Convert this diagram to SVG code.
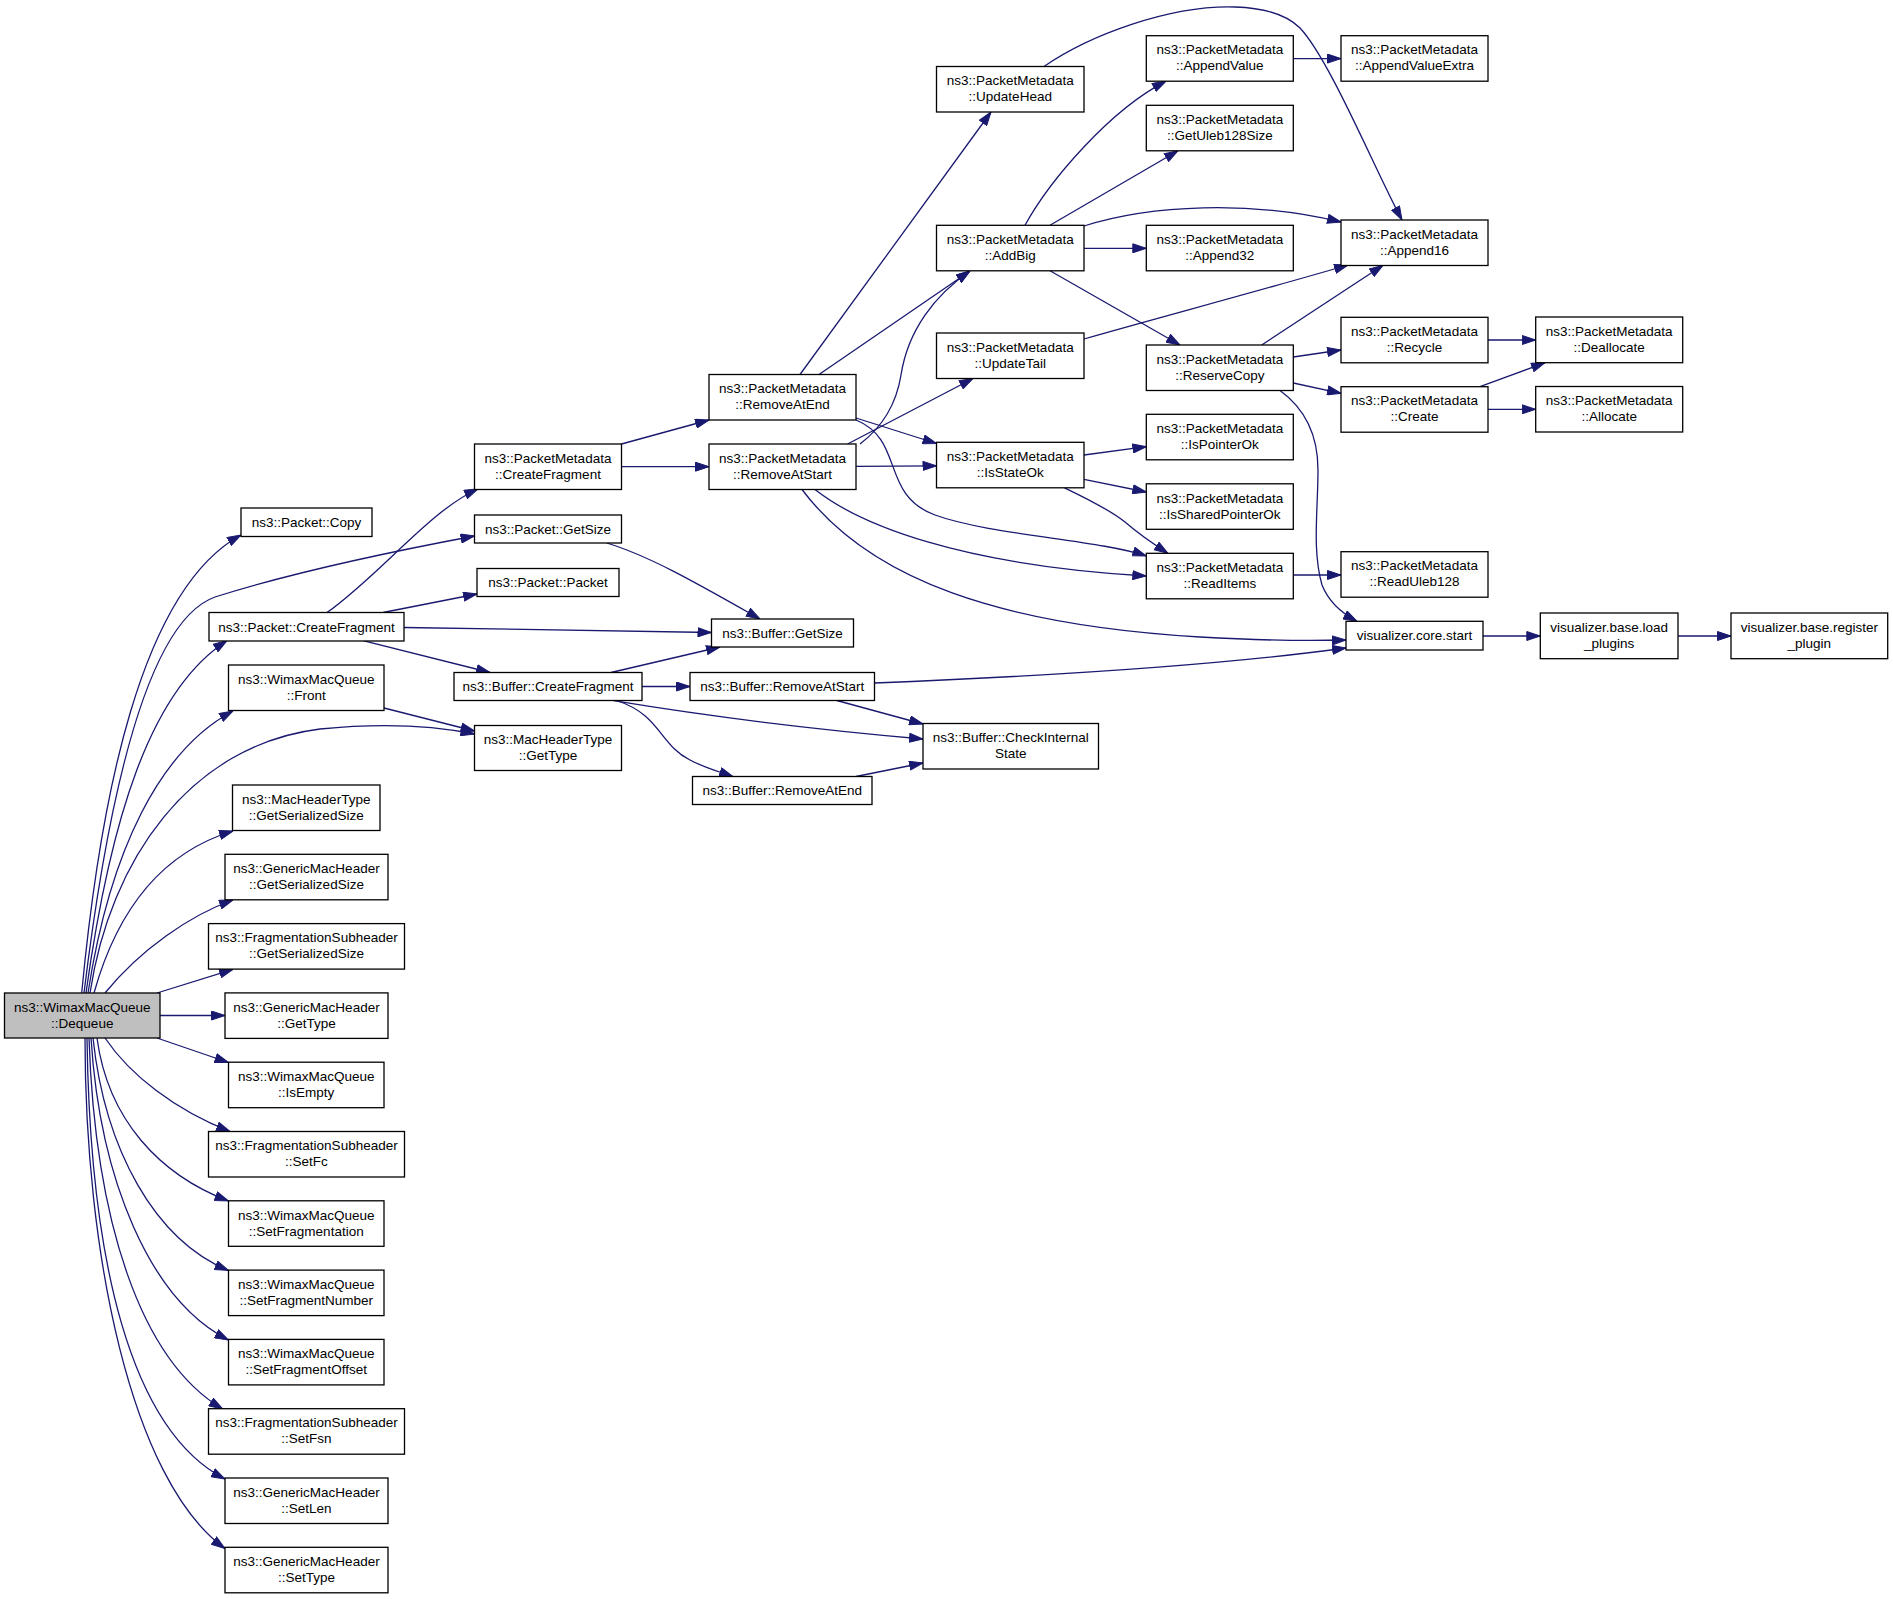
<svg xmlns="http://www.w3.org/2000/svg" width="1893" height="1599" viewBox="0 0 1893 1599">
<style>
.n rect{fill:#fff;stroke:#000;stroke-width:1.3}
.n.hl rect{fill:#bfbfbf}
.n text{font-family:"Liberation Sans",Arial,sans-serif;font-size:13.5px;text-anchor:middle;fill:#000}
.e path{fill:none;stroke:#191970;stroke-width:1.3;marker-end:url(#a)}
</style>
<defs>
<marker id="a" markerUnits="userSpaceOnUse" markerWidth="14" markerHeight="10" refX="14" refY="5" orient="auto" viewBox="0 0 14 10"><path d="M0.5,0.5 L14,5 L0.5,9.5 z" fill="#191970" stroke="#191970" stroke-width="1"/></marker>
</defs>
<rect width="1893" height="1599" fill="#fff"/>
<g id="edges" class="e">
<path d="M81.7,993 C100,800 140,590 241,535"/>
<path d="M84,993 C110,780 150,620 215,597 C300,570 400,550 474.5,536"/>
<path d="M86,993 C110,820 150,690 227,640.7"/>
<path d="M88,993 C110,850 160,750 233,711"/>
<path d="M90,993 C110,860 190,745 320,729 C390,722 440,727 474.5,734"/>
<path d="M94,993 C120,900 170,850 233,831"/>
<path d="M105,993 C140,950 190,915 233,900"/>
<path d="M157,993 L233,969.3"/>
<path d="M160,1015.5 L225,1015.5"/>
<path d="M157,1038 L228.5,1062.5"/>
<path d="M105,1038 C130,1075 175,1110 230,1131.5"/>
<path d="M97,1038 C108,1120 160,1175 228.5,1201"/>
<path d="M93,1038 C105,1150 155,1240 228.5,1270.5"/>
<path d="M91,1038 C100,1180 150,1300 228.5,1340"/>
<path d="M89,1038 C95,1220 140,1360 222.7,1409"/>
<path d="M87,1038 C90,1260 130,1430 225,1479"/>
<path d="M85,1038 C85,1250 130,1480 225,1548.5"/>
<path d="M327,612.5 C380,575 430,510 478,489"/>
<path d="M383,612.5 L477,594"/>
<path d="M404,627.5 L711.5,632.5"/>
<path d="M363,640.7 L490,672.5"/>
<path d="M606.7,543 C650,556 700,585 760,619"/>
<path d="M384,708 L474.5,731"/>
<path d="M621.5,444 L709,420"/>
<path d="M621.5,466.7 L709,466.7"/>
<path d="M611,672.5 L720,647"/>
<path d="M642,686.5 L690,686.5"/>
<path d="M613.5,700.7 C700,715 820,730 923,739"/>
<path d="M618,701 C660,715 660,745 690,760 C705,768 720,772 733,776.5"/>
<path d="M800,374.5 L991,112"/>
<path d="M819,374.5 L970,271"/>
<path d="M860,444 C885,425 897,400 901,375 C908,330 935,295 970,271"/>
<path d="M847.6,444 L973,378.5"/>
<path d="M856,418 L936.5,443.5"/>
<path d="M856,466.3 L936.5,465.8"/>
<path d="M856,420 C905,440 880,495 935,515 C990,535 1100,540 1146.3,556"/>
<path d="M815,489.5 C860,525 960,565 1146.3,576"/>
<path d="M802,489.5 C870,580 1000,625 1200,637 C1270,641 1310,641 1346,640"/>
<path d="M836.8,700.5 L923,724"/>
<path d="M874.5,683 C1000,678 1200,668 1346,648"/>
<path d="M856,776.5 L923,763"/>
<path d="M1044,66.5 C1090,35 1170,5 1235,7 C1270,8 1290,18 1300,28 C1330,60 1375,170 1402,220"/>
<path d="M1025,225.3 C1050,180 1110,110 1166,81.2"/>
<path d="M1050,225.3 L1178,150.8"/>
<path d="M1084,226 C1150,205 1250,200 1341,222"/>
<path d="M1084,248.3 L1146.3,248.3"/>
<path d="M1050,270.8 L1180,345"/>
<path d="M1084,339 C1150,320 1270,288 1348,265"/>
<path d="M1084,455 L1146.3,446.7"/>
<path d="M1084,479.3 L1146.3,492"/>
<path d="M1064.5,487.8 C1090,500 1110,510 1125,522 C1140,535 1155,545 1168,553.3"/>
<path d="M1293.3,58.6 L1341,58.6"/>
<path d="M1261.7,345 L1383,265.3"/>
<path d="M1293.3,357 L1341,350"/>
<path d="M1293.3,383 L1341,393.3"/>
<path d="M1280,390.5 C1300,405 1318,430 1318,470 C1318,510 1312,550 1322,585 C1330,605 1345,615 1357,621.3"/>
<path d="M1293.3,575 L1341,575"/>
<path d="M1488,340 L1535.7,340"/>
<path d="M1480,386.7 L1545,362.7"/>
<path d="M1488,409.3 L1535.7,409.3"/>
<path d="M1482.7,636 L1540.3,636"/>
<path d="M1678,636 L1731,636"/>
</g>
<g id="n0" class="n hl"><rect x="4.5" y="993" width="155.5" height="45"/><text x="82.25" y="1011.5">ns3::WimaxMacQueue</text><text x="82.25" y="1027.5">::Dequeue</text></g>
<g id="n1" class="n"><rect x="241" y="508" width="131" height="28.5"/><text x="306.5" y="527">ns3::Packet::Copy</text></g>
<g id="n2" class="n"><rect x="209" y="612.5" width="195" height="28.5"/><text x="306.5" y="631.5">ns3::Packet::CreateFragment</text></g>
<g id="n3" class="n"><rect x="228.5" y="665" width="155.5" height="45.5"/><text x="306.25" y="683.75">ns3::WimaxMacQueue</text><text x="306.25" y="699.75">::Front</text></g>
<g id="n4" class="n"><rect x="232.5" y="785" width="147.5" height="45.5"/><text x="306.25" y="803.75">ns3::MacHeaderType</text><text x="306.25" y="819.75">::GetSerializedSize</text></g>
<g id="n5" class="n"><rect x="225" y="854.3" width="163" height="45.5"/><text x="306.5" y="873">ns3::GenericMacHeader</text><text x="306.5" y="889">::GetSerializedSize</text></g>
<g id="n6" class="n"><rect x="208.5" y="923.6" width="196" height="45.5"/><text x="306.5" y="942.3">ns3::FragmentationSubheader</text><text x="306.5" y="958.3">::GetSerializedSize</text></g>
<g id="n7" class="n"><rect x="225" y="992.9" width="163" height="45.5"/><text x="306.5" y="1011.6">ns3::GenericMacHeader</text><text x="306.5" y="1027.6">::GetType</text></g>
<g id="n8" class="n"><rect x="228.5" y="1062.2" width="155.5" height="45.5"/><text x="306.25" y="1081">ns3::WimaxMacQueue</text><text x="306.25" y="1097">::IsEmpty</text></g>
<g id="n9" class="n"><rect x="208.5" y="1131.5" width="196" height="45.5"/><text x="306.5" y="1150.25">ns3::FragmentationSubheader</text><text x="306.5" y="1166.25">::SetFc</text></g>
<g id="n10" class="n"><rect x="228.5" y="1200.8" width="155.5" height="45.5"/><text x="306.25" y="1219.5">ns3::WimaxMacQueue</text><text x="306.25" y="1235.5">::SetFragmentation</text></g>
<g id="n11" class="n"><rect x="228.5" y="1270.1" width="155.5" height="45.5"/><text x="306.25" y="1288.85">ns3::WimaxMacQueue</text><text x="306.25" y="1304.85">::SetFragmentNumber</text></g>
<g id="n12" class="n"><rect x="228.5" y="1339.4" width="155.5" height="45.5"/><text x="306.25" y="1358.15">ns3::WimaxMacQueue</text><text x="306.25" y="1374.15">::SetFragmentOffset</text></g>
<g id="n13" class="n"><rect x="208.5" y="1408.7" width="196" height="45.5"/><text x="306.5" y="1427.45">ns3::FragmentationSubheader</text><text x="306.5" y="1443.45">::SetFsn</text></g>
<g id="n14" class="n"><rect x="225" y="1478" width="163" height="45.5"/><text x="306.5" y="1496.75">ns3::GenericMacHeader</text><text x="306.5" y="1512.75">::SetLen</text></g>
<g id="n15" class="n"><rect x="225" y="1547.3" width="163" height="45.5"/><text x="306.5" y="1566">ns3::GenericMacHeader</text><text x="306.5" y="1582">::SetType</text></g>
<g id="n16" class="n"><rect x="474.5" y="444" width="147" height="45.5"/><text x="548" y="462.75">ns3::PacketMetadata</text><text x="548" y="478.75">::CreateFragment</text></g>
<g id="n17" class="n"><rect x="474.5" y="515" width="147" height="28"/><text x="548" y="533.7">ns3::Packet::GetSize</text></g>
<g id="n18" class="n"><rect x="477" y="568.5" width="142" height="28"/><text x="548" y="587.2">ns3::Packet::Packet</text></g>
<g id="n19" class="n"><rect x="454" y="672.5" width="188" height="28"/><text x="548" y="691.2">ns3::Buffer::CreateFragment</text></g>
<g id="n20" class="n"><rect x="474.5" y="725.5" width="147" height="45"/><text x="548" y="744">ns3::MacHeaderType</text><text x="548" y="760">::GetType</text></g>
<g id="n21" class="n"><rect x="709" y="374.5" width="147" height="45.5"/><text x="782.5" y="393.25">ns3::PacketMetadata</text><text x="782.5" y="409.25">::RemoveAtEnd</text></g>
<g id="n22" class="n"><rect x="709" y="444" width="147" height="45.5"/><text x="782.5" y="462.75">ns3::PacketMetadata</text><text x="782.5" y="478.75">::RemoveAtStart</text></g>
<g id="n23" class="n"><rect x="711.5" y="619" width="142" height="28"/><text x="782.5" y="637.7">ns3::Buffer::GetSize</text></g>
<g id="n24" class="n"><rect x="690" y="672.5" width="184.5" height="28"/><text x="782.25" y="691.2">ns3::Buffer::RemoveAtStart</text></g>
<g id="n25" class="n"><rect x="692.5" y="776.5" width="179.5" height="28"/><text x="782.25" y="795.2">ns3::Buffer::RemoveAtEnd</text></g>
<g id="n26" class="n"><rect x="936.5" y="66.5" width="147.5" height="45.5"/><text x="1010.25" y="85.25">ns3::PacketMetadata</text><text x="1010.25" y="101.25">::UpdateHead</text></g>
<g id="n27" class="n"><rect x="936.5" y="225.3" width="147.5" height="45.5"/><text x="1010.25" y="244">ns3::PacketMetadata</text><text x="1010.25" y="260">::AddBig</text></g>
<g id="n28" class="n"><rect x="936.5" y="333" width="147.5" height="45.5"/><text x="1010.25" y="351.75">ns3::PacketMetadata</text><text x="1010.25" y="367.75">::UpdateTail</text></g>
<g id="n29" class="n"><rect x="936.5" y="442.3" width="147.5" height="45.5"/><text x="1010.25" y="461">ns3::PacketMetadata</text><text x="1010.25" y="477">::IsStateOk</text></g>
<g id="n30" class="n"><rect x="923" y="723.5" width="175.5" height="45.5"/><text x="1010.75" y="742.25">ns3::Buffer::CheckInternal</text><text x="1010.75" y="758.25">State</text></g>
<g id="n31" class="n"><rect x="1146.3" y="35.7" width="147" height="45.5"/><text x="1219.8" y="54.45">ns3::PacketMetadata</text><text x="1219.8" y="70.45">::AppendValue</text></g>
<g id="n32" class="n"><rect x="1146.3" y="105.3" width="147" height="45.5"/><text x="1219.8" y="124">ns3::PacketMetadata</text><text x="1219.8" y="140">::GetUleb128Size</text></g>
<g id="n33" class="n"><rect x="1146.3" y="225.3" width="147" height="45.5"/><text x="1219.8" y="244">ns3::PacketMetadata</text><text x="1219.8" y="260">::Append32</text></g>
<g id="n34" class="n"><rect x="1146.3" y="345" width="147" height="45.5"/><text x="1219.8" y="363.75">ns3::PacketMetadata</text><text x="1219.8" y="379.75">::ReserveCopy</text></g>
<g id="n35" class="n"><rect x="1146.3" y="414.3" width="147" height="45.5"/><text x="1219.8" y="433">ns3::PacketMetadata</text><text x="1219.8" y="449">::IsPointerOk</text></g>
<g id="n36" class="n"><rect x="1146.3" y="483.8" width="147" height="45.5"/><text x="1219.8" y="502.5">ns3::PacketMetadata</text><text x="1219.8" y="518.5">::IsSharedPointerOk</text></g>
<g id="n37" class="n"><rect x="1146.3" y="553.3" width="147" height="45.5"/><text x="1219.8" y="572">ns3::PacketMetadata</text><text x="1219.8" y="588">::ReadItems</text></g>
<g id="n38" class="n"><rect x="1341" y="35.7" width="147" height="45.5"/><text x="1414.5" y="54.45">ns3::PacketMetadata</text><text x="1414.5" y="70.45">::AppendValueExtra</text></g>
<g id="n39" class="n"><rect x="1341" y="220" width="147" height="45.5"/><text x="1414.5" y="238.75">ns3::PacketMetadata</text><text x="1414.5" y="254.75">::Append16</text></g>
<g id="n40" class="n"><rect x="1341" y="317.3" width="147" height="45.5"/><text x="1414.5" y="336">ns3::PacketMetadata</text><text x="1414.5" y="352">::Recycle</text></g>
<g id="n41" class="n"><rect x="1341" y="386.7" width="147" height="45.5"/><text x="1414.5" y="405.45">ns3::PacketMetadata</text><text x="1414.5" y="421.45">::Create</text></g>
<g id="n42" class="n"><rect x="1341" y="551.7" width="147" height="45.5"/><text x="1414.5" y="570.45">ns3::PacketMetadata</text><text x="1414.5" y="586.45">::ReadUleb128</text></g>
<g id="n43" class="n"><rect x="1346" y="621.3" width="137" height="28.7"/><text x="1414.5" y="640.35">visualizer.core.start</text></g>
<g id="n44" class="n"><rect x="1535.7" y="317" width="147" height="45.7"/><text x="1609.2" y="335.85">ns3::PacketMetadata</text><text x="1609.2" y="351.85">::Deallocate</text></g>
<g id="n45" class="n"><rect x="1535.7" y="386.5" width="147" height="45.5"/><text x="1609.2" y="405.25">ns3::PacketMetadata</text><text x="1609.2" y="421.25">::Allocate</text></g>
<g id="n46" class="n"><rect x="1540.3" y="613" width="137.7" height="45.7"/><text x="1609.15" y="631.85">visualizer.base.load</text><text x="1609.15" y="647.85">_plugins</text></g>
<g id="n47" class="n"><rect x="1731" y="613" width="156.7" height="45.7"/><text x="1809.35" y="631.85">visualizer.base.register</text><text x="1809.35" y="647.85">_plugin</text></g>
</svg>
